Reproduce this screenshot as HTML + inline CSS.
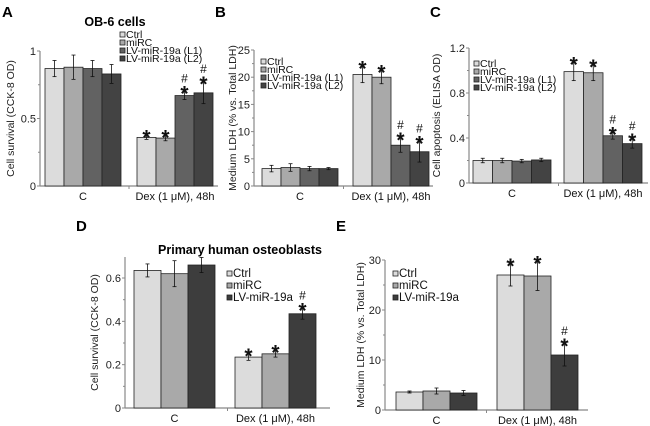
<!DOCTYPE html>
<html><head><meta charset="utf-8"><style>
body{margin:0;background:#fff}
svg{display:block;font-family:"Liberation Sans",Arial,sans-serif}
</style></head><body>
<svg id="fig" width="650" height="426" viewBox="0 0 650 426"></svg>
<script>
const groupLabels = ["C", "Dex (1 μM), 48h"];
const seriesA = ["Ctrl","miRC","LV-miR-19a (L1)","LV-miR-19a (L2)"];
const seriesD = ["Ctrl","miRC","LV-miR-19a"];
const valsA = [[0.87,0.88,0.87,0.83],[0.36,0.355,0.67,0.69]];
const errA  = [[0.06,0.09,0.06,0.07],[0.015,0.02,0.03,0.08]];
const ticksA = [0,0.5,1];
const valsB = [[3.2,3.4,3.2,3.2],[20.5,20,7.5,6.3]];
const errB  = [[0.6,0.7,0.4,0.2],[1.5,1.2,1.3,1.9]];
const ticksB = [0,5,10,15,20,25];
const valsC = [[0.2,0.2,0.195,0.205],[0.99,0.98,0.42,0.35]];
const errC  = [[0.02,0.02,0.015,0.015],[0.08,0.07,0.03,0.04]];
const ticksC = [0,0.4,0.8,1.2];
const valsD = [[0.635,0.62,0.66],[0.235,0.25,0.435]];
const errD  = [[0.03,0.06,0.035],[0.015,0.015,0.025]];
const ticksD = [0,0.2,0.4,0.6];
const valsE = [[3.6,3.8,3.4],[27,26.8,11]];
const errE  = [[0.2,0.6,0.5],[2.2,2.9,2.2]];
const ticksE = [0,10,20,30];
const marksA = [["",""," "," "],["*","*","#*","#*"]];
const marksD = [["","",""],["*","*","#*"]];

const NS="http://www.w3.org/2000/svg";
const svg=document.getElementById('fig');
function el(tag,attrs,parent,txt){const e=document.createElementNS(NS,tag);for(const k in attrs)e.setAttribute(k,attrs[k]);if(txt!==undefined)e.textContent=txt;(parent||svg).appendChild(e);return e;}
const colors4=["#dcdcdc","#a9a9a9","#626262","#434343"];
const colors3=["#dcdcdc","#a9a9a9","#3d3d3d"];

function panel(p){
  const g=el('g',{});
  
  
  const y=v=>p.y0-(v/p.max)*(p.y0-p.yTop);
  const ya=el('line',{x1:p.ax,y1:p.y0,x2:p.ax,y2:p.yTop,stroke:'#888','stroke-width':1.2},g);
  
  const xa=el('line',{x1:p.ax,y1:p.y0,x2:p.axEnd,y2:p.y0,stroke:'#888','stroke-width':1.2},g);
  
  const mid=(p.ax+p.axEnd)/2;
  el('line',{x1:mid,y1:p.y0,x2:mid,y2:p.y0+3,stroke:'#888'},g);
  p.ticks.forEach((t,i)=>{
    el('line',{x1:p.ax-3,y1:y(t),x2:p.ax,y2:y(t),stroke:'#888'},g);
    if(i<p.ticks.length-1){const m=(t+p.ticks[i+1])/2;el('line',{x1:p.ax-2,y1:y(m),x2:p.ax,y2:y(m),stroke:'#888'},g);}
    const tl=el('text',{x:p.ax-4,y:y(t)+4,'font-size':11,'text-anchor':'end',fill:'#222'},g,String(t));
    
  });
  const yt=el('text',{transform:`translate(${p.ytx},${(p.y0+p.yTop)/2}) rotate(-90)`,'font-size':10.5,'text-anchor':'middle',fill:'#222'},g,p.ytitle);
  
  p.vals.forEach((grp,gi)=>{
    const gx=p.gx[gi];
    grp.forEach((v,si)=>{
      const bx=gx+si*p.bw, by=y(v);
      const r=el('rect',{x:bx,y:by,width:p.bw,height:p.y0-by,fill:p.colors[si],stroke:'#222','stroke-width':0.8},g);
      
      const e=p.err[gi][si], cx=bx+p.bw/2;
      el('line',{x1:cx,y1:y(v+e),x2:cx,y2:y(v-e),stroke:'#111','stroke-width':0.8},g);
      el('line',{x1:cx-2,y1:y(v+e),x2:cx+2,y2:y(v+e),stroke:'#111','stroke-width':0.8},g);
      el('line',{x1:cx-2,y1:y(v-e),x2:cx+2,y2:y(v-e),stroke:'#111','stroke-width':0.8},g);
      const m=p.marks[gi][si]||"";
      let ty=y(v+e)-1;
      if(m.includes('*')){el('text',{x:cx,y:ty+10,'font-size':21,'font-weight':'bold','text-anchor':'middle',fill:'#111'},g,'*');ty-=10;}
      if(m.includes('#')){el('text',{x:cx,y:ty+2,'font-size':12,'text-anchor':'middle',fill:'#111'},g,'#');}
    });
    const gl=el('text',{x:gx+p.bw*grp.length/2,y:p.y0+14,'font-size':11,'text-anchor':'middle',fill:'#111'},g,groupLabels[gi]);
    
  });
  const lg=el('g',{},g);
  p.series.forEach((s,i)=>{
    const ly=p.ly+i*p.lstep;
    el('rect',{x:p.lx,y:ly-6,width:5,height:5,fill:p.colors[i],stroke:'#222','stroke-width':0.8},lg);
    const t=el('text',{x:p.lx+6,y:ly,'font-size':p.lfs,fill:'#111'},lg,s);
    
  });
  const L=el('text',{x:p.lab[0],y:p.lab[1],'font-size':15,'font-weight':'bold',fill:'#000'},g,p.id);
  
  if(p.title){const T=el('text',{x:p.title[1],y:p.title[2],'font-size':12.5,'font-weight':'bold','text-anchor':'middle',fill:'#000'},g,p.title[0]);}
}
panel({id:'A',ax:40,axEnd:218,y0:186,yTop:51,max:1,ticks:ticksA,vals:valsA,err:errA,marks:marksA,gx:[45,137],bw:19,colors:colors4,series:seriesA,lx:120,ly:38,lstep:8,lfs:10.5,ytx:14,ytitle:'Cell survival (CCK-8 OD)',lab:[2,17],title:['OB-6 cells',115,26]});
panel({id:'B',ax:254,axEnd:433,y0:186,yTop:50,max:25,ticks:ticksB,vals:valsB,err:errB,marks:marksA,gx:[262,353],bw:19,colors:colors4,series:seriesA,lx:261,ly:65,lstep:8,lfs:10.5,ytx:236,ytitle:'Medium LDH (% vs. Total LDH)',lab:[215,17]});
panel({id:'C',ax:469,axEnd:648,y0:183,yTop:48,max:1.2,ticks:ticksC,vals:valsC,err:errC,marks:marksA,gx:[473,564],bw:19.5,colors:colors4,series:seriesA,lx:474,ly:67,lstep:8,lfs:10.5,ytx:440,ytitle:'Cell apoptosis (ELISA OD)',lab:[430,17]});
panel({id:'D',ax:125,axEnd:330,y0:408,yTop:257,max:0.697,ticks:ticksD,vals:valsD,err:errD,marks:marksD,gx:[134,235],bw:27,colors:colors3,series:seriesD,lx:227,ly:277,lstep:12,lfs:11.5,ytx:98,ytitle:'Cell survival (CCK-8 OD)',lab:[76,231],title:['Primary human osteoblasts',240,254]});
panel({id:'E',ax:385,axEnd:588,y0:410,yTop:260,max:30,ticks:ticksE,vals:valsE,err:errE,marks:marksD,gx:[396,497],bw:27,colors:colors3,series:seriesD,lx:393,ly:277,lstep:12,lfs:11.5,ytx:364,ytitle:'Medium LDH (% vs. Total LDH)',lab:[336,231]});
</script>
</body></html>
